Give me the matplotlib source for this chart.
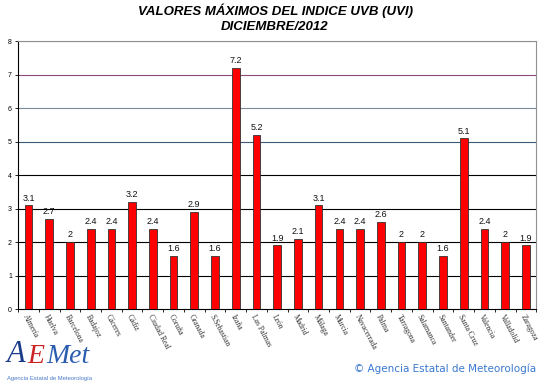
import matplotlib.pyplot as plt
import numpy as np

estaciones = ['Almería', 'Huelva', 'Barcelona', 'Badajoz', 'Cáceres', 'Cádiz',
              'Ciudad Real', 'Coruña', 'Granada', 'S.Sebastian', 'Izaña',
              'Las Palmas', 'León', 'Madrid', 'Málaga', 'Murcia', 'Navacerrada',
              'Palma', 'Tarragona', 'Salamanca', 'Santander', 'Santa Cruz',
              'Valencia', 'Valladolid', 'Zaragoza']
uvi = [3.1, 2.7, 2, 2.4, 2.4, 3.2, 2.4, 1.6, 2.9, 1.6, 7.2, 5.2, 1.9, 2.1,
       3.1, 2.4, 2.4, 2.6, 2, 2, 1.6, 5.1, 2.4, 2, 1.9]
niveles = [1, 2, 3, 4, 5, 6, 7, 8]
colores_nivel = ['black', 'black', 'black', 'black', '#3c5a78', '#7a8a9a', '#8c4a7c', '#909090']

fig = plt.figure(figsize=(5.5, 3.84), dpi=100)
ax = fig.add_axes([0.033, 0.195, 0.942, 0.698])

x = np.arange(len(estaciones))
for nv, c in zip(niveles, colores_nivel):
    ax.axhline(nv, color=c, lw=0.8, zorder=1)

ax.bar(x, uvi, width=0.37, color='#ff0000', edgecolor='#333333', linewidth=0.6, zorder=3)
for xi, v in zip(x, uvi):
    ax.text(xi, v + 0.08, f'{v:g}', ha='center', va='bottom', fontsize=6.5,
            family='Liberation Sans', color='#111111')

ax.set_xlim(-0.5, len(estaciones) - 0.5)
ax.set_ylim(0, 8)
ax.set_yticks(range(0, 9))
ax.set_yticklabels([str(i) for i in range(0, 9)], fontsize=5, family='Liberation Sans')
ax.set_xticks(np.arange(-0.5, len(estaciones), 1), minor=False)
ax.set_xticklabels([])
ax.set_xticks(x, minor=True)
ax.set_xticklabels(estaciones, minor=True, rotation=-62, ha='left', va='top',
                   rotation_mode='anchor', fontsize=5.5, family='Liberation Serif',
                   color='#333333')
ax.tick_params(axis='x', which='minor', length=0, pad=3)
ax.tick_params(axis='x', which='major', length=2.5, width=0.6)
ax.tick_params(axis='y', length=2.5, width=0.6, pad=2)
for s in ['top', 'right']:
    ax.spines[s].set_color('#909090')
    ax.spines[s].set_linewidth(0.8)
ax.spines['left'].set_linewidth(0.8)
ax.spines['bottom'].set_linewidth(0.8)

fig.text(0.5, 0.99, 'VALORES MÁXIMOS DEL INDICE UVB (UVI)', ha='center', va='top',
         fontsize=9.5, fontweight='bold', fontstyle='italic', family='Liberation Sans')
fig.text(0.5, 0.945, 'DICIEMBRE/2012', ha='center', va='top',
         fontsize=9.5, fontweight='bold', fontstyle='italic', family='Liberation Sans')

# logo
fig.text(0.012, 0.04, 'A', fontsize=22, color='#1a3a8a', family='Liberation Serif',
         fontstyle='italic', va='bottom')
fig.text(0.05, 0.04, 'E', fontsize=20, color='#cc2222', family='Liberation Serif',
         fontstyle='italic', va='bottom')
fig.text(0.085, 0.04, 'Met', fontsize=20, color='#2a5cb0', family='Liberation Serif',
         fontstyle='italic', va='bottom')
fig.text(0.012, 0.008, 'Agencia Estatal de Meteorología', fontsize=4.2, color='#4a7ac8',
         family='Liberation Sans', va='bottom')
fig.text(0.975, 0.025, '© Agencia Estatal de Meteorología', fontsize=7.5, color='#3a78d0',
         family='DejaVu Sans', ha='right', va='bottom')

fig.savefig('out.png', dpi=100, facecolor='white')
